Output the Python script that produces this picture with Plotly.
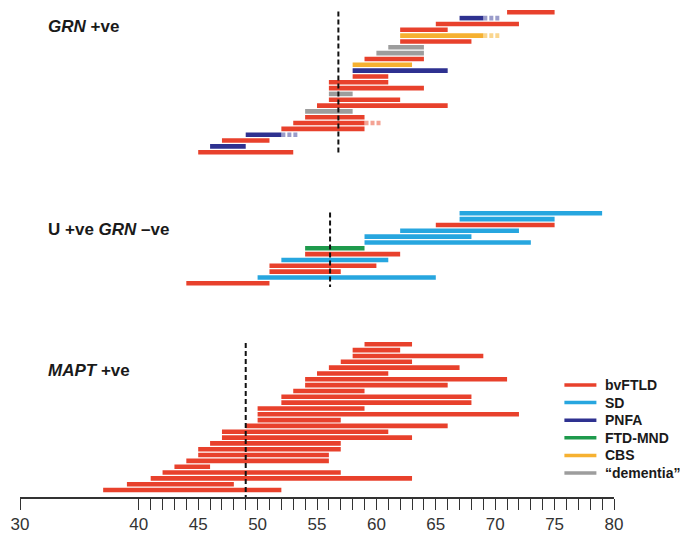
import plotly.graph_objects as go

# ---------------- data ----------------
diagnoses = ["bvFTLD", "SD", "PNFA", "FTD-MND", "CBS", "\u201cdementia\u201d"]
diag_colors = ["#e8412c", "#27a6df", "#2e3190", "#1e9a4c", "#f6b131", "#9d9d9d"]
ext_colors = ["#f4a394", "#95d2ef", "#9a9cca", "#8fcca5", "#fad68f", "#cfcfcf"]

# GRN +ve (top to bottom): onset, end, diagnosis, dotted extension end
grn_onset = [71, 67, 65, 62, 62, 62, 61, 60, 59, 58, 58, 58, 56, 56, 56, 56, 55, 54, 54, 53, 52, 49, 47, 46, 45]
grn_end = [75, 69, 72, 66, 69, 68, 64, 64, 64, 63, 66, 61, 61, 64, 58, 62, 66, 58, 59, 59, 59, 52, 51, 49, 53]
grn_diag = ["bvFTLD", "PNFA", "bvFTLD", "bvFTLD", "CBS", "bvFTLD", "\u201cdementia\u201d", "\u201cdementia\u201d",
            "bvFTLD", "CBS", "PNFA", "bvFTLD", "bvFTLD", "bvFTLD", "\u201cdementia\u201d", "bvFTLD", "bvFTLD",
            "\u201cdementia\u201d", "bvFTLD", "bvFTLD", "bvFTLD", "PNFA", "bvFTLD", "PNFA", "bvFTLD"]
grn_ext = [None, 70.5, None, None, 70.5, None, None, None, None, None, None, None, None, None, None, None, None,
           None, None, 60.5, None, 53.4, None, None, None]
grn_median = 56.8

# U +ve GRN -ve
u_onset = [67, 67, 65, 62, 59, 59, 54, 54, 52, 51, 51, 50, 44]
u_end = [79, 75, 75, 72, 68, 73, 59, 62, 61, 60, 57, 65, 51]
u_diag = ["SD", "SD", "bvFTLD", "SD", "SD", "SD", "FTD-MND", "bvFTLD", "SD", "bvFTLD", "bvFTLD", "SD", "bvFTLD"]
u_median = 56.1

# MAPT +ve (all bvFTLD)
mapt_onset = [59, 58, 58, 57, 56, 55, 54, 54, 53, 52, 52, 50, 50, 50, 49, 47, 47, 46, 45, 45, 44, 43, 42, 41, 39, 37]
mapt_end = [63, 62, 69, 63, 67, 61, 71, 66, 59, 68, 68, 59, 72, 57, 66, 61, 63, 57, 57, 56, 56, 46, 57, 63, 48, 52]
mapt_diag = ["bvFTLD"] * len(mapt_onset)
mapt_median = 49.0

group_titles = ["<b><i>GRN</i> +ve</b>", "<b>U +ve <i>GRN</i> \u2013ve</b>", "<b><i>MAPT</i> +ve</b>"]

tick_values = [30] + list(range(40, 81))
tick_text = ["30"] + [str(v) if v % 5 == 0 else "" for v in range(40, 81)]

# ---------------- layout constants ----------------
# page has an 8px body margin; y data units equal page pixels
PAGE_OFF = 8
FIG_W, FIG_H = 688 - PAGE_OFF, 540 - PAGE_OFF
X30_PAGE = 19.6
PLOT_W = 594
ROW = 5.83
group_top = [12.3, 213.3, 344.3]
median_span = [(11.5, 153.5), (212.5, 287), (343, 497)]
title_y = [26, 229, 370]
AXIS_Y = 497
BAR_W = 4.6


def paper_x(page_px):
    return (page_px - X30_PAGE) / PLOT_W


groups = [
    (grn_onset, grn_end, grn_diag, grn_ext, grn_median),
    (u_onset, u_end, u_diag, [None] * len(u_onset), u_median),
    (mapt_onset, mapt_end, mapt_diag, [None] * len(mapt_onset), mapt_median),
]

seg_x = {d: [] for d in diagnoses}
seg_y = {d: [] for d in diagnoses}
ext_x = {d: [] for d in diagnoses}
ext_y = {d: [] for d in diagnoses}

for gi, (ons, ends, dg, ex, med) in enumerate(groups):
    for i, (s, e, d, x2) in enumerate(zip(ons, ends, dg, ex)):
        y = group_top[gi] + i * ROW
        seg_x[d] += [s, e, None]
        seg_y[d] += [y, y, None]
        if x2 is not None:
            ext_x[d] += [e, x2, None]
            ext_y[d] += [y, y, None]

fig = go.Figure()

for d, c, ec in zip(diagnoses, diag_colors, ext_colors):
    if ext_x[d]:
        fig.add_trace(go.Scatter(x=ext_x[d], y=ext_y[d], mode="lines",
                                 line=dict(color=ec, width=BAR_W, dash="4px,2px"),
                                 showlegend=False, hoverinfo="skip"))
    if seg_x[d]:
        fig.add_trace(go.Scatter(x=seg_x[d], y=seg_y[d], mode="lines", name=d,
                                 line=dict(color=c, width=BAR_W),
                                 showlegend=False))

# median dashed lines
for gi, (ons, ends, dg, ex, med) in enumerate(groups):
    y0, y1 = median_span[gi]
    fig.add_trace(go.Scatter(x=[med, med], y=[y0, y1], mode="lines",
                             line=dict(color="#111111", width=2, dash="5px,3px"),
                             showlegend=False, hoverinfo="skip"))

# group titles
for t, ty in zip(group_titles, title_y):
    fig.add_annotation(text=t, xref="paper", yref="y", x=paper_x(46), y=ty,
                       xanchor="left", yanchor="middle", showarrow=False,
                       font=dict(family="Liberation Sans, Arial, sans-serif", size=17, color="#1a1a1a"))

# manual legend
LEG_Y0 = 385
LEG_DY = 17.6
for i, (d, c) in enumerate(zip(diagnoses, diag_colors)):
    ly = LEG_Y0 + i * LEG_DY
    fig.add_shape(type="line", xref="paper", yref="y", x0=paper_x(564), x1=paper_x(596),
                  y0=ly, y1=ly, line=dict(color=c, width=3.5))
    fig.add_annotation(text="<b>" + d + "</b>", xref="paper", yref="y", x=paper_x(603), y=ly,
                       xanchor="left", yanchor="middle", showarrow=False,
                       font=dict(family="Liberation Sans, Arial, sans-serif", size=14, color="#1a1a1a"))

fig.update_layout(
    width=FIG_W, height=FIG_H,
    margin=dict(l=X30_PAGE - PAGE_OFF, r=FIG_W - (X30_PAGE - PAGE_OFF) - PLOT_W,
                t=0, b=FIG_H - (AXIS_Y - PAGE_OFF)),
    paper_bgcolor="white", plot_bgcolor="white",
    showlegend=False,
    xaxis=dict(range=[30, 80], showgrid=False, zeroline=False,
               showline=True, linecolor="#333333", linewidth=1.6,
               ticks="outside", ticklen=11, tickwidth=1.3, tickcolor="#333333",
               tickvals=tick_values, ticktext=tick_text,
               tickfont=dict(family="Liberation Sans, Arial, sans-serif", size=17, color="#333333")),
    yaxis=dict(range=[AXIS_Y, PAGE_OFF], visible=False, showgrid=False, zeroline=False),
)

fig.write_html("out.html")
